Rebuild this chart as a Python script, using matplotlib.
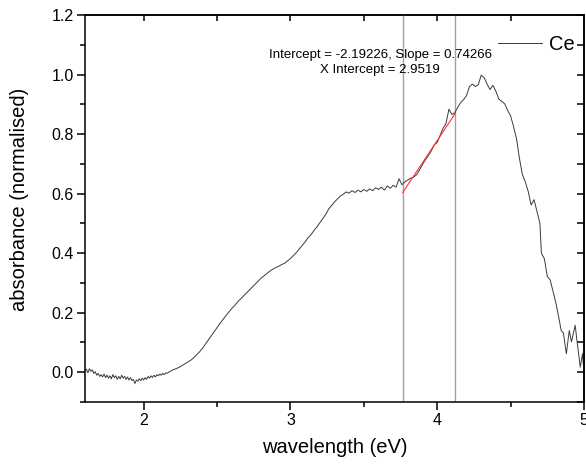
import numpy as np
import matplotlib
matplotlib.use("Agg")
import matplotlib.pyplot as plt
from matplotlib.ticker import MultipleLocator, FormatStrFormatter

plt.rcParams['font.family'] = ['Liberation Sans', 'DejaVu Sans']

# Ce absorbance spectrum (normalised) vs photon energy
energy = [
    1.60, 1.61, 1.62, 1.63, 1.64, 1.65, 1.66, 1.67, 1.68, 1.69,
    1.70, 1.71, 1.72, 1.73, 1.74, 1.75, 1.76, 1.77, 1.78, 1.79,
    1.80, 1.81, 1.82, 1.83, 1.84, 1.85, 1.86, 1.87, 1.88, 1.89,
    1.90, 1.91, 1.92, 1.93, 1.94, 1.95, 1.96, 1.97, 1.98, 1.99,
    2.00, 2.01, 2.02, 2.03, 2.04, 2.05, 2.06, 2.07, 2.08, 2.09,
    2.10, 2.11, 2.12, 2.13, 2.14, 2.15, 2.16, 2.17, 2.18, 2.19,
    2.20, 2.22, 2.24, 2.26, 2.28, 2.30, 2.32, 2.34, 2.36, 2.38,
    2.40, 2.42, 2.44, 2.46, 2.48, 2.50, 2.52, 2.54, 2.56, 2.58,
    2.60, 2.62, 2.64, 2.66, 2.68, 2.70, 2.72, 2.74, 2.76, 2.78,
    2.80, 2.82, 2.84, 2.86, 2.88, 2.90, 2.92, 2.94, 2.96, 2.98,
    3.00, 3.02, 3.04, 3.06, 3.08, 3.10, 3.12, 3.14, 3.16, 3.18,
    3.20, 3.22, 3.24, 3.26, 3.28, 3.30, 3.32, 3.34, 3.36, 3.38,
    3.40, 3.42, 3.44, 3.46, 3.48, 3.50, 3.52, 3.54, 3.56, 3.58,
    3.60, 3.62, 3.64, 3.66, 3.68, 3.70, 3.72, 3.74, 3.76, 3.78,
    3.80, 3.82, 3.84, 3.86, 3.88, 3.90, 3.92, 3.94, 3.96, 3.98,
    4.00, 4.02, 4.04, 4.06, 4.08, 4.10, 4.12, 4.14, 4.16, 4.18,
    4.20, 4.22, 4.24, 4.26, 4.28, 4.30, 4.32, 4.34, 4.36, 4.38,
    4.40, 4.42, 4.44, 4.46, 4.48, 4.50, 4.52, 4.54, 4.56, 4.58,
    4.60, 4.62, 4.64, 4.66, 4.68, 4.70, 4.71, 4.73, 4.75, 4.77,
    4.79, 4.81, 4.83, 4.845, 4.86, 4.88, 4.90, 4.915, 4.94, 4.955,
    4.975, 4.99, 5.00,
]
absorbance = [
    0.004, 0.010, -0.002, 0.012, 0.003, 0.008, -0.004, 0.002, -0.010, -0.004,
    -0.014, -0.008, -0.016, -0.006, -0.018, -0.010, -0.020, -0.012, -0.022, -0.008,
    -0.018, -0.012, -0.024, -0.014, -0.022, -0.010, -0.020, -0.014, -0.024, -0.016,
    -0.026, -0.018, -0.028, -0.024, -0.038, -0.026, -0.030, -0.022, -0.028, -0.020,
    -0.026, -0.018, -0.024, -0.014, -0.020, -0.012, -0.018, -0.010, -0.016, -0.008,
    -0.012, -0.006, -0.010, -0.004, -0.008, -0.002, -0.004, 0.000, 0.002, 0.006,
    0.008, 0.012, 0.016, 0.022, 0.028, 0.034, 0.040, 0.048, 0.058, 0.068,
    0.080, 0.094, 0.108, 0.122, 0.136, 0.150, 0.164, 0.177, 0.190, 0.202,
    0.214, 0.224, 0.236, 0.246, 0.256, 0.266, 0.276, 0.286, 0.296, 0.306,
    0.316, 0.324, 0.332, 0.340, 0.346, 0.352, 0.356, 0.362, 0.366, 0.374,
    0.382, 0.392, 0.402, 0.414, 0.426, 0.438, 0.452, 0.462, 0.476, 0.488,
    0.502, 0.516, 0.530, 0.548, 0.560, 0.572, 0.582, 0.592, 0.598, 0.606,
    0.602, 0.610, 0.604, 0.612, 0.606, 0.614, 0.608, 0.616, 0.610, 0.620,
    0.614, 0.622, 0.612, 0.626, 0.618, 0.628, 0.622, 0.650, 0.630, 0.640,
    0.646, 0.652, 0.656, 0.664, 0.680, 0.698, 0.714, 0.728, 0.744, 0.764,
    0.772, 0.796, 0.820, 0.836, 0.884, 0.866, 0.872, 0.890, 0.906, 0.916,
    0.930, 0.960, 0.968, 0.960, 0.966, 0.998, 0.990, 0.968, 0.950, 0.964,
    0.944, 0.918, 0.910, 0.902, 0.880, 0.862, 0.826, 0.786, 0.720, 0.665,
    0.640, 0.608, 0.562, 0.580, 0.540, 0.500, 0.400, 0.382, 0.322, 0.310,
    0.270, 0.230, 0.180, 0.140, 0.132, 0.062, 0.140, 0.102, 0.158, 0.096,
    0.017, 0.062, 0.000,
]

# Linear fit over the absorption edge
fit_range = [3.765, 4.122]
fit_intercept = -2.19226
fit_slope = 0.74266
x_intercept = -fit_intercept / fit_slope

fig = plt.figure(figsize=(5.86, 4.65), dpi=100)
ax = fig.add_axes([0.145, 0.1355, 0.8515, 0.832])

ax.plot(energy, absorbance, color='#3a3a3a', lw=0.7, label='Ce')

for xv in fit_range:
    ax.axvline(xv, color='#a0a0a0', lw=1.0, zorder=1)

fx = np.array(fit_range)
ax.plot(fx, fit_intercept + fit_slope * fx, color='#ff3030', lw=0.8, zorder=3)

ax.text(0.5915, 0.896,
        f"Intercept = {fit_intercept:.5f}, Slope = {fit_slope:.5f}",
        transform=ax.transAxes, ha='center', va='center', fontsize=9.5)
ax.text(0.5915, 0.857, f"X Intercept = {x_intercept:.4f}",
        transform=ax.transAxes, ha='center', va='center', fontsize=9.5)

ax.set_xlim(1.6, 5.0)
ax.set_ylim(-0.1, 1.2)
ax.xaxis.set_major_locator(MultipleLocator(1))
ax.xaxis.set_minor_locator(MultipleLocator(0.5))
ax.yaxis.set_major_locator(MultipleLocator(0.2))
ax.yaxis.set_minor_locator(MultipleLocator(0.1))
ax.yaxis.set_major_formatter(FormatStrFormatter('%.1f'))

for sp in ax.spines.values():
    sp.set_linewidth(1.1)

ax.tick_params(axis='both', which='major', direction='out', length=6, width=1.1,
               labelsize=11.5, colors='black', pad=2)
ax.tick_params(axis='both', which='minor', direction='out', length=3.5, width=1.1)

# mirrored ticks on top and right pointing inward
top = ax.secondary_xaxis('top')
top.set_xticks([2, 3, 4, 5])
top.xaxis.set_minor_locator(MultipleLocator(0.5))
top.tick_params(which='both', direction='in', length=4, width=1.1, labeltop=False)
top.spines['top'].set_linewidth(1.1)
right = ax.secondary_yaxis('right')
right.yaxis.set_major_locator(MultipleLocator(0.1))
right.tick_params(which='both', direction='in', length=5, width=1.1, labelright=False)
right.spines['right'].set_linewidth(1.1)

ax.set_xlabel('wavelength (eV)', fontsize=14.5, labelpad=7)
ax.set_ylabel('absorbance (normalised)', fontsize=14.5)
ax.yaxis.set_label_coords(-0.113, 0.525)

ax.legend(loc='upper right', bbox_to_anchor=(0.980, 0.925),
          bbox_transform=fig.transFigure, frameon=False, fontsize=14.5,
          handlelength=2.2, handletextpad=0.3, borderpad=0, borderaxespad=0)

fig.savefig('out.png', dpi=100)
